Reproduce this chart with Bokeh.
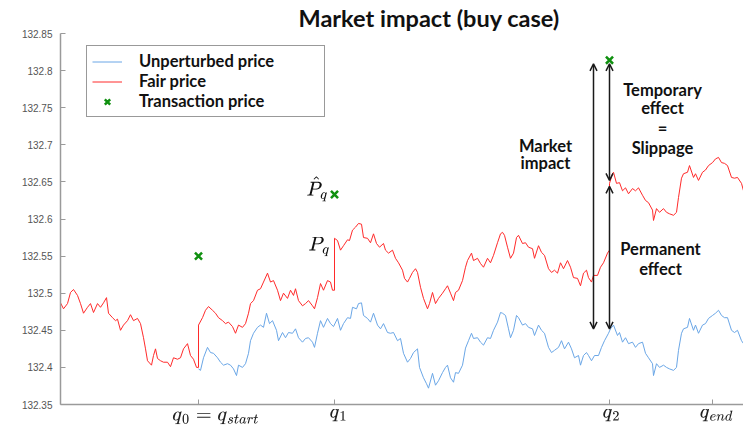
from bokeh.plotting import figure
from bokeh.models import (Range1d, FixedTicker, Label, Arrow, OpenHead,
                          Legend, LegendItem)
from bokeh.embed import file_html
from bokeh.resources import INLINE

# ---------------- data ----------------
t_fair = [0, 3, 7, 10, 13, 17, 20, 23, 27, 30,
          33, 37, 40, 43, 46, 48, 52, 55, 57, 60,
          63, 67, 70, 73, 77, 80, 83, 85, 87, 91,
          93, 95, 97, 100, 103, 107, 110, 113, 117, 120,
          123, 127, 130, 133, 136, 138, 138, 142, 145, 148,
          152, 155, 158, 162, 165, 168, 172, 175, 178, 182,
          185, 188, 190, 193, 197, 200, 203, 207, 210, 213,
          217, 220, 223, 227, 230, 233, 235, 238, 242, 245,
          248, 252, 254, 257, 260, 263, 267, 270, 272, 274,
          274, 277, 280, 283, 287, 289, 292, 295, 298, 301,
          303, 307, 310, 313, 316, 319, 323, 325, 328, 332,
          335, 338, 342, 344, 347, 349, 352, 355, 357, 360,
          363, 367, 369, 372, 375, 378, 382, 385, 387, 390,
          393, 395, 398, 402, 405, 407, 411, 413, 417, 420,
          423, 427, 430, 433, 437, 440, 442, 444, 447, 450,
          453, 456, 458, 462, 465, 468, 472, 474, 478, 481,
          484, 488, 491, 494, 497, 500, 503, 507, 510, 513,
          517, 520, 523, 526, 528, 531, 533, 537, 540, 543,
          547, 549, 549, 552, 553, 556, 559, 562, 565, 568,
          572, 575, 578, 582, 585, 588, 592, 593, 596, 599,
          603, 606, 609, 613, 616, 618, 621, 623, 627, 629,
          633, 635, 638, 642, 645, 648, 652, 655, 658, 661,
          664, 667, 671, 674, 677, 681, 683]
fair_price = [132.487, 132.479, 132.486, 132.501, 132.505, 132.497, 132.486, 132.473, 132.481, 132.486,
              132.474, 132.486, 132.481, 132.487, 132.494, 132.473, 132.467, 132.463, 132.465, 132.450,
              132.457, 132.463, 132.471, 132.463, 132.466, 132.459, 132.440, 132.425, 132.409, 132.403,
              132.416, 132.425, 132.412, 132.409, 132.407, 132.407, 132.401, 132.413, 132.411, 132.413,
              132.425, 132.432, 132.416, 132.411, 132.400, 132.400, 132.457, 132.467, 132.477, 132.482,
              132.477, 132.473, 132.467, 132.463, 132.459, 132.461, 132.455, 132.446, 132.457, 132.454,
              132.459, 132.473, 132.486, 132.490, 132.504, 132.506, 132.515, 132.527, 132.515, 132.517,
              132.504, 132.490, 132.500, 132.493, 132.504, 132.497, 132.506, 132.490, 132.483, 132.486,
              132.490, 132.483, 132.479, 132.494, 132.513, 132.504, 132.517, 132.515, 132.504, 132.504,
              132.574, 132.571, 132.558, 132.564, 132.572, 132.571, 132.585, 132.589, 132.594, 132.593,
              132.575, 132.574, 132.568, 132.580, 132.567, 132.562, 132.567, 132.558, 132.554, 132.558,
              132.547, 132.541, 132.531, 132.520, 132.515, 132.520, 132.528, 132.533, 132.528, 132.508,
              132.493, 132.479, 132.486, 132.501, 132.486, 132.493, 132.500, 132.506, 132.510, 132.500,
              132.490, 132.501, 132.504, 132.517, 132.535, 132.544, 132.554, 132.544, 132.547, 132.540,
              132.535, 132.547, 132.541, 132.551, 132.568, 132.580, 132.582, 132.578, 132.562, 132.547,
              132.554, 132.575, 132.578, 132.567, 132.568, 132.562, 132.560, 132.547, 132.564, 132.555,
              132.551, 132.533, 132.528, 132.531, 132.527, 132.541, 132.533, 132.544, 132.535, 132.521,
              132.520, 132.510, 132.527, 132.531, 132.521, 132.515, 132.524, 132.524, 132.535, 132.541,
              132.554, 132.558, 132.648, 132.661, 132.663, 132.648, 132.649, 132.638, 132.642, 132.634,
              132.641, 132.638, 132.642, 132.632, 132.625, 132.622, 132.612, 132.598, 132.614, 132.609,
              132.614, 132.609, 132.607, 132.605, 132.609, 132.629, 132.655, 132.661, 132.663, 132.672,
              132.656, 132.661, 132.652, 132.663, 132.666, 132.672, 132.676, 132.681, 132.683, 132.676,
              132.675, 132.672, 132.656, 132.655, 132.656, 132.648, 132.638]

t_unpert = [138, 140, 143, 147, 150, 153, 157, 160, 163, 167,
            170, 173, 176, 178, 182, 185, 188, 190, 193, 197,
            200, 203, 206, 209, 212, 216, 218, 222, 225, 228,
            232, 235, 238, 242, 245, 248, 252, 254, 257, 260,
            263, 267, 270, 273, 277, 280, 283, 287, 290, 292,
            296, 298, 301, 303, 307, 310, 313, 317, 320, 323,
            327, 330, 333, 337, 340, 343, 347, 350, 353, 357,
            359, 363, 366, 368, 372, 375, 378, 382, 385, 387,
            390, 393, 395, 398, 402, 405, 408, 411, 413, 417,
            420, 423, 427, 430, 433, 437, 440, 442, 445, 448,
            450, 453, 456, 458, 462, 465, 468, 472, 474, 478,
            481, 484, 488, 491, 494, 498, 501, 504, 508, 511,
            514, 518, 520, 523, 526, 528, 531, 534, 538, 541,
            544, 548, 550, 553, 557, 559, 562, 565, 568, 572,
            575, 578, 582, 585, 588, 592, 593, 596, 599, 603,
            606, 609, 613, 616, 618, 621, 623, 627, 629, 633,
            635, 638, 642, 645, 648, 652, 655, 658, 661, 664,
            667, 671, 674, 677, 681, 683]
unperturbed_price = [132.398, 132.396, 132.413, 132.427, 132.420, 132.419, 132.413, 132.407, 132.403, 132.405,
                     132.403, 132.398, 132.389, 132.403, 132.400, 132.405, 132.419, 132.436, 132.446, 132.454,
                     132.457, 132.454, 132.473, 132.459, 132.463, 132.450, 132.436, 132.447, 132.440, 132.447,
                     132.446, 132.452, 132.440, 132.434, 132.439, 132.440, 132.434, 132.427, 132.446, 132.463,
                     132.454, 132.466, 132.459, 132.455, 132.466, 132.450, 132.459, 132.467, 132.466, 132.481,
                     132.479, 132.486, 132.487, 132.470, 132.466, 132.461, 132.473, 132.457, 132.452, 132.459,
                     132.447, 132.446, 132.447, 132.436, 132.439, 132.419, 132.407, 132.412, 132.420, 132.425,
                     132.400, 132.386, 132.378, 132.372, 132.392, 132.376, 132.382, 132.393, 132.400, 132.403,
                     132.386, 132.380, 132.393, 132.392, 132.403, 132.426, 132.436, 132.446, 132.439, 132.440,
                     132.434, 132.430, 132.440, 132.439, 132.450, 132.461, 132.474, 132.473, 132.470, 132.452,
                     132.440, 132.450, 132.470, 132.467, 132.457, 132.459, 132.454, 132.452, 132.443, 132.457,
                     132.450, 132.446, 132.427, 132.420, 132.423, 132.427, 132.436, 132.425, 132.434, 132.425,
                     132.413, 132.416, 132.403, 132.416, 132.420, 132.416, 132.409, 132.416, 132.416, 132.427,
                     132.436, 132.446, 132.452, 132.457, 132.443, 132.447, 132.434, 132.440, 132.432, 132.434,
                     132.427, 132.432, 132.434, 132.419, 132.413, 132.405, 132.389, 132.405, 132.400, 132.403,
                     132.400, 132.398, 132.396, 132.400, 132.423, 132.446, 132.452, 132.454, 132.466, 132.450,
                     132.457, 132.446, 132.457, 132.459, 132.466, 132.470, 132.473, 132.477, 132.470, 132.467,
                     132.467, 132.450, 132.447, 132.450, 132.436, 132.432]

t_trans = [138, 274, 549]
transaction_price = [132.550, 132.633, 132.814]

x_ticks = [138, 274, 549, 652]
x_tick_labels = [r"$$\hspace{1.7em}q_0 = q_{start}$$", r"$$\hspace{0.4em}q_1$$",
                 r"$$\hspace{0.2em}q_2$$", r"$$\hspace{0.4em}q_{end}$$"]
y_ticks = [132.35, 132.4, 132.45, 132.5, 132.55, 132.6, 132.65, 132.7, 132.75, 132.8, 132.85]
y_tick_labels = ["132.35", "132.4", "132.45", "132.5", "132.55", "132.6", "132.65",
                 "132.7", "132.75", "132.8", "132.85"]

assert len(t_fair) == len(fair_price)
assert len(t_unpert) == len(unperturbed_price)

# ---------------- figure ----------------
p = figure(frame_width=683, frame_height=371, output_backend="svg", toolbar_location=None,
           x_range=Range1d(0, 683), y_range=Range1d(132.35, 132.85),
           min_border_left=60, min_border_right=0, min_border_top=33, min_border_bottom=23,
           title="Market impact (buy case)")
p.outline_line_color = None
p.grid.visible = False
p.background_fill_color = "white"
p.border_fill_color = "white"

p.title.align = "left"
p.title.offset = 238
p.title.standoff = 3
p.title.text_font = "Lato"
p.title.text_font_style = "bold"
p.title.text_font_size = "23.5px"
p.title.text_color = "#111111"

AX = "#9a9a9a"
for ax in (p.xaxis[0], p.yaxis[0]):
    ax.axis_line_color = AX
    ax.axis_line_width = 1.5
    ax.major_tick_line_color = AX
    ax.major_tick_in = 5
    ax.major_tick_out = 0
    ax.minor_tick_line_color = None

p.yaxis.ticker = FixedTicker(ticks=y_ticks)
p.yaxis.major_label_overrides = dict(zip(y_ticks, y_tick_labels))
p.yaxis.major_label_text_font = "Liberation Sans"
p.yaxis.major_label_text_font_size = "10px"
p.yaxis.major_label_text_color = "#555555"
p.yaxis.major_label_standoff = 8

p.xaxis.ticker = FixedTicker(ticks=x_ticks)
p.xaxis.major_label_overrides = dict(zip(x_ticks, x_tick_labels))
p.xaxis.major_label_text_font_size = "16.5px"
p.xaxis.major_label_text_color = "#222222"
p.xaxis.major_label_standoff = 4

RED = "#ff2a2a"
BLUE = "#6aa6e6"
GREEN = "#109010"

r_blue = p.line(t_unpert, unperturbed_price, line_color=BLUE, line_width=1)
r_red = p.line(t_fair, fair_price, line_color=RED, line_width=1)
r_x = p.scatter(t_trans, transaction_price, marker="x", size=10, line_color=GREEN, line_width=2.5)

legend = Legend(items=[LegendItem(label="Unperturbed price", renderers=[r_blue]),
                       LegendItem(label="Fair price", renderers=[r_red]),
                       LegendItem(label="Transaction price", renderers=[r_x])],
                location=(26, 287))
legend.label_text_font = "Lato"
legend.label_text_font_style = "bold"
legend.label_text_font_size = "16.5px"
legend.label_text_color = "#111111"
legend.glyph_width = 30
legend.glyph_height = 19
legend.label_height = 19
legend.label_width = 180
legend.label_standoff = 17
legend.spacing = 0
legend.padding = 5
legend.margin = 0
legend.border_line_color = "#333333"
legend.border_line_width = 1
legend.background_fill_alpha = 1
p.add_layout(legend)

# ---------------- annotations ----------------
FONT = "Lato"
INK = "#111111"

q2 = x_ticks[2]
t_mi = 533
top_trans = transaction_price[2]
p_perm_top = 132.648
base_unpert = 132.452

def head():
    return OpenHead(size=7, line_color="#1a1a1a", line_width=1.5)

arrow_kw = dict(line_color="#1a1a1a", line_width=1.5)
p.add_layout(Arrow(start=head(), end=head(), x_start=t_mi, y_start=base_unpert,
                   x_end=t_mi, y_end=top_trans - 0.005, **arrow_kw))
p.add_layout(Arrow(start=head(), end=head(), x_start=q2, y_start=p_perm_top + 0.004,
                   x_end=q2, y_end=top_trans - 0.005, **arrow_kw))
p.add_layout(Arrow(start=head(), end=head(), x_start=q2, y_start=base_unpert,
                   x_end=q2, y_end=p_perm_top - 0.004, **arrow_kw))

text_kw = dict(text_align="center", text_baseline="middle", text_font=FONT,
               text_font_style="bold", text_font_size="16.5px", text_color=INK)
for txt, tx, ty in [("Market", 485, 132.699), ("impact", 485, 132.675),
                    ("Temporary", 602, 132.7745), ("effect", 602, 132.749),
                    ("=", 602, 132.722), ("Slippage", 602, 132.696),
                    ("Permanent", 600, 132.559), ("effect", 600, 132.533)]:
    p.add_layout(Label(x=tx, y=ty, text=txt, **text_kw))

p.add_layout(Label(x=246, y=132.642, text=r"$$\hat{P}_q$$", text_align="left",
                   text_baseline="middle", text_font_size="16px", text_color=INK))
p.add_layout(Label(x=248, y=132.563, text=r"$$P_q$$", text_align="left",
                   text_baseline="middle", text_font_size="16px", text_color=INK))

open("out.html", "w").write(file_html(p, INLINE))
